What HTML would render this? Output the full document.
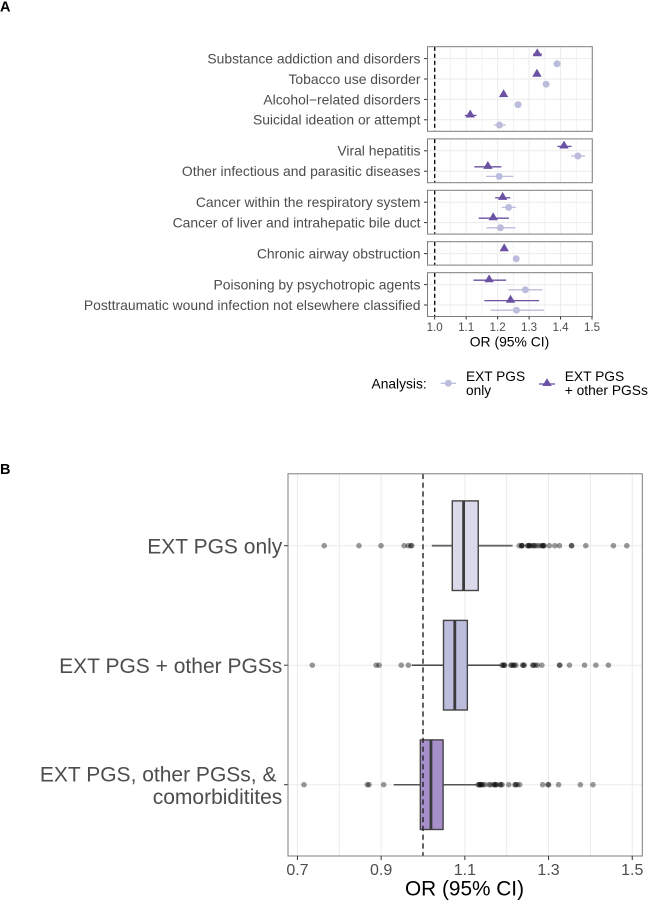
<!DOCTYPE html>
<html lang="en">
<head>
<meta charset="utf-8">
<title>OR forest plot and box plot</title>
<style>
html,body{margin:0;padding:0;background:#fff;width:648px;height:900px;overflow:hidden}
svg{display:block;font-family:"Liberation Sans",sans-serif}
</style>
</head>
<body>
<svg id="fig" xmlns="http://www.w3.org/2000/svg" width="648" height="900" viewBox="0 0 648 900"></svg>
<script>
// ---------- Panel A data ----------
const outcomes = ["Substance addiction and disorders","Tobacco use disorder","Alcohol\u2212related disorders","Suicidal ideation or attempt","Viral hepatitis","Other infectious and parasitic diseases","Cancer within the respiratory system","Cancer of liver and intrahepatic bile duct","Chronic airway obstruction","Poisoning by psychotropic agents","Posttraumatic wound infection not elsewhere classified"];
const outcomeGroup = [0,0,0,0,1,1,2,2,3,4,4];
const extOnlyOR   = [1.389,1.354,1.265,1.206,1.455,1.205,1.235,1.209,1.259,1.288,1.260];
const extOnlyLow  = [1.377,1.347,1.258,1.188,1.433,1.164,1.213,1.164,1.252,1.234,1.178];
const extOnlyHigh = [1.401,1.361,1.272,1.226,1.478,1.250,1.258,1.256,1.266,1.343,1.347];
const extOtherOR   = [1.326,1.325,1.219,1.113,1.411,1.169,1.216,1.186,1.221,1.173,1.241];
const extOtherLow  = [1.313,1.318,1.212,1.096,1.390,1.126,1.192,1.140,1.214,1.123,1.158];
const extOtherHigh = [1.341,1.332,1.226,1.133,1.435,1.212,1.240,1.236,1.228,1.227,1.332];
const forestTicks = [1.0,1.1,1.2,1.3,1.4,1.5];
const forestMinorTicks = [1.05,1.15,1.25,1.35,1.45];

// ---------- Panel B data ----------
const boxCategories = [["EXT PGS only"],["EXT PGS + other PGSs"],["EXT PGS, other PGSs, &\u00a0","comorbiditites"]];
const boxQ1 = [1.070,1.049,0.9936];
const boxMedian = [1.097,1.076,1.019];
const boxQ3 = [1.132,1.106,1.048];
const whiskerLow = [1.021,0.973,0.930];
const whiskerHigh = [1.214,1.184,1.127];
const outliers1 = [0.764,0.847,0.8996,0.955,0.965,0.971,0.973,1.230,1.236,1.236,1.237,1.250,1.251,1.254,1.255,1.260,1.265,1.266,1.272,1.278,1.285,1.285,1.289,1.289,1.302,1.315,1.326,1.355,1.355,1.389,1.455,1.487];
const outliers2 = [0.7355,0.888,0.895,0.948,0.965,1.189,1.191,1.194,1.195,1.210,1.212,1.216,1.218,1.222,1.238,1.240,1.242,1.262,1.264,1.268,1.273,1.284,1.326,1.327,1.350,1.386,1.413,1.443];
const outliers3 = [0.7156,0.867,0.871,0.906,1.132,1.134,1.136,1.138,1.140,1.143,1.148,1.158,1.162,1.170,1.171,1.174,1.175,1.184,1.186,1.189,1.205,1.220,1.221,1.225,1.231,1.286,1.299,1.300,1.324,1.376,1.406];
const boxOutliers = [outliers1,outliers2,outliers3];
const boxTicks = [0.7,0.9,1.1,1.3,1.5];
const boxMinorTicks = [0.8,1.0,1.2,1.4];
const boxFills = ["#dadaeb","#bcbddc","#a78fc9"];

// ---------- helpers ----------
const NS = "http://www.w3.org/2000/svg";
const svg = document.getElementById("fig");
function mk(tag, attrs, parent, text){
  const n = document.createElementNS(NS, tag);
  for (const k in attrs) n.setAttribute(k, attrs[k]);
  if (text !== undefined) n.textContent = text;
  (parent || svg).appendChild(n);
  return n;
}
const xA = v => 434.7 + (v - 1) * 314.6;
const xB = v => 423 + (v - 1) * 418.5;
const rowStep = 20.4, rowPad = 11.9, panelGap = 7.6, firstTop = 46.7, dodge = 5.2;
const yBox = i => 545.7 + i * 119.5;
const boxHalf = 44.8;
const PLEFT_A = 427.5, PRIGHT_A = 592.3;
const PLEFT_B = 288, PRIGHT_B = 642.3, PTOP_B = 473.8, PBOT_B = 856;
const GRID = "#ebebeb", BORDER = "#7d7d7d", TICKTXT = "#4d4d4d", DARK = "#6a51a3", LIGHT = "#bcbddc";
const whiskerStyle = [["#666",1.8],["#333",1.3],["#555",1.5]];

let e;
e = mk("text",{x:0,y:11.7,"font-size":14.5,"font-weight":"bold",fill:"#000"},svg,"A");


e = mk("text",{x:0,y:474,"font-size":14.5,"font-weight":"bold",fill:"#000"},svg,"B");



// ---------- Panel A ----------
const groupCount = Math.max(...outcomeGroup) + 1;
let facetTop = firstTop;
for (let g = 0; g < groupCount; g++){
  const members = [];
  outcomes.forEach((_, i) => { if (outcomeGroup[i] === g) members.push(i); });
  const h = 2 * rowPad - 0.4 + (members.length - 1) * rowStep;
  const facetBottom = facetTop + h;
  const pg = mk("g",{});
  
  
  forestMinorTicks.forEach(t => {
    const l = mk("line",{x1:xA(t),x2:xA(t),y1:facetTop,y2:facetBottom,stroke:"#f0f0f0","stroke-width":0.8},pg);
    
    
  });
  forestTicks.forEach(t => {
    const l = mk("line",{x1:xA(t),x2:xA(t),y1:facetTop,y2:facetBottom,stroke:GRID,"stroke-width":1},pg);
    
    
  });
  members.forEach((m, r) => {
    const y = facetTop + rowPad + r * rowStep;
    const gl = mk("line",{x1:PLEFT_A,x2:PRIGHT_A,y1:y,y2:y,stroke:GRID,"stroke-width":1},pg);
    
    
    const tk = mk("line",{x1:PLEFT_A-3.5,x2:PLEFT_A,y1:y,y2:y,stroke:"#333","stroke-width":1},pg);
    
    
    const lb = mk("text",{x:420.5,y:y+4.9,"text-anchor":"end","font-size":13.9,fill:TICKTXT},pg,outcomes[m]);
    
    

    const yc = y + dodge, yt = y - dodge;
    const c1 = mk("line",{x1:xA(extOnlyLow[m]),x2:xA(extOnlyHigh[m]),y1:yc,y2:yc,stroke:LIGHT,"stroke-width":1.3},pg);
    
    
    const p1 = mk("circle",{cx:xA(extOnlyOR[m]),cy:yc,r:3.5,fill:LIGHT},pg);
    
    
    const c2 = mk("line",{x1:xA(extOtherLow[m]),x2:xA(extOtherHigh[m]),y1:yt+0.8,y2:yt+0.8,stroke:DARK,"stroke-width":1.3},pg);
    
    
    const tx = xA(extOtherOR[m]);
    const p2 = mk("polygon",{points:`${tx-4.7},${yt+2.9} ${tx+4.7},${yt+2.9} ${tx},${yt-5}`,fill:DARK},pg);
    
    
  });
  const d = mk("line",{x1:xA(1),x2:xA(1),y1:facetTop,y2:facetBottom,stroke:"#000","stroke-width":1.3,"stroke-dasharray":"4.2 2.8"},pg);
  
  
  const b = mk("rect",{x:PLEFT_A,y:facetTop,width:PRIGHT_A-PLEFT_A,height:h,fill:"none",stroke:BORDER,"stroke-width":1},pg);
  
  
  facetTop = facetBottom + panelGap;
}
const axisA = facetTop - panelGap;
forestTicks.forEach(t => {
  const l = mk("line",{x1:xA(t),x2:xA(t),y1:axisA,y2:axisA+3,stroke:"#333","stroke-width":1});
  
  
  const s = mk("text",{x:xA(t),y:331,"text-anchor":"middle","font-size":11.6,fill:TICKTXT},svg,t.toFixed(1));
  
  
});
e = mk("text",{x:509.5,y:346.7,"text-anchor":"middle","font-size":13.9,fill:"#000"},svg,"OR (95% CI)");



// legend
const lg = mk("g",{});


e = mk("text",{x:371.5,y:388.3,"font-size":13.8,fill:"#000"},lg,"Analysis:");


e = mk("line",{x1:440.7,x2:456,y1:383.3,y2:383.3,stroke:LIGHT,"stroke-width":1.3},lg);


e = mk("circle",{cx:448.3,cy:383.3,r:3.5,fill:LIGHT},lg);


e = mk("text",{x:466,y:381,"font-size":13.7,fill:"#000"},lg,"EXT PGS");


e = mk("text",{x:466,y:395,"font-size":13.7,fill:"#000"},lg,"only");


e = mk("line",{x1:539,x2:555,y1:384,y2:384,stroke:DARK,"stroke-width":1.3},lg);


e = mk("polygon",{points:"542.3,386 551.7,386 547,378.2",fill:DARK},lg);


e = mk("text",{x:564.7,y:381,"font-size":13.8,fill:"#000"},lg,"EXT PGS");


e = mk("text",{x:564.7,y:395,"font-size":13.8,fill:"#000"},lg,"+ other PGSs");



// ---------- Panel B ----------
const pb = mk("g",{});


boxMinorTicks.concat(boxTicks).forEach(t => {
  const l = mk("line",{x1:xB(t),x2:xB(t),y1:PTOP_B,y2:PBOT_B,stroke:GRID,"stroke-width":1},pb);
  
  
});
boxCategories.forEach((lines, i) => {
  const y = yBox(i);
  const gl = mk("line",{x1:PLEFT_B,x2:PRIGHT_B,y1:y,y2:y,stroke:GRID,"stroke-width":1},pb);
  
  
  const tk = mk("line",{x1:PLEFT_B-4,x2:PLEFT_B,y1:y,y2:y,stroke:"#333","stroke-width":1},pb);
  
  
  const base = lines.length === 1 ? y + 7.6 : y - 3;
  lines.forEach((t, k) => {
    const s = mk("text",{x:282.3,y:base+k*22.3,"text-anchor":"end","font-size":21,fill:TICKTXT},pb,t);
    
    
  });
  const wl = mk("line",{x1:xB(whiskerLow[i]),x2:xB(boxQ1[i]),y1:y,y2:y,stroke:whiskerStyle[i][0],"stroke-width":whiskerStyle[i][1]},pb);
  
  
  const wh = mk("line",{x1:xB(boxQ3[i]),x2:xB(whiskerHigh[i]),y1:y,y2:y,stroke:whiskerStyle[i][0],"stroke-width":whiskerStyle[i][1]},pb);
  
  
  const r = mk("rect",{x:xB(boxQ1[i]),y:y-boxHalf,width:xB(boxQ3[i])-xB(boxQ1[i]),height:2*boxHalf,fill:boxFills[i],stroke:"#444","stroke-width":1.4},pb);
  
  
  const m = mk("line",{x1:xB(boxMedian[i]),x2:xB(boxMedian[i]),y1:y-boxHalf,y2:y+boxHalf,stroke:"#3a3a3a","stroke-width":2.8},pb);
  
  
  boxOutliers[i].forEach(v => {
    const c = mk("circle",{cx:xB(v),cy:y,r:2.8,fill:"#000","fill-opacity":0.4},pb);
    
    
  });
});
e = mk("line",{x1:xB(1),x2:xB(1),y1:PTOP_B,y2:PBOT_B,stroke:"#222","stroke-width":1.4,"stroke-dasharray":"5.2 3.6"},pb);


e = mk("rect",{x:PLEFT_B,y:PTOP_B,width:PRIGHT_B-PLEFT_B,height:PBOT_B-PTOP_B,fill:"none",stroke:BORDER,"stroke-width":1},pb);


boxTicks.forEach(t => {
  const l = mk("line",{x1:xB(t),x2:xB(t),y1:PBOT_B,y2:PBOT_B+4,stroke:"#333","stroke-width":1},pb);
  
  
  const s = mk("text",{x:xB(t),y:875,"text-anchor":"middle","font-size":16,fill:TICKTXT},pb,t.toFixed(1));
  
  
});
e = mk("text",{x:464.5,y:895.7,"text-anchor":"middle","font-size":20.8,fill:"#000"},pb,"OR (95% CI)");


</script>
</body>
</html>
